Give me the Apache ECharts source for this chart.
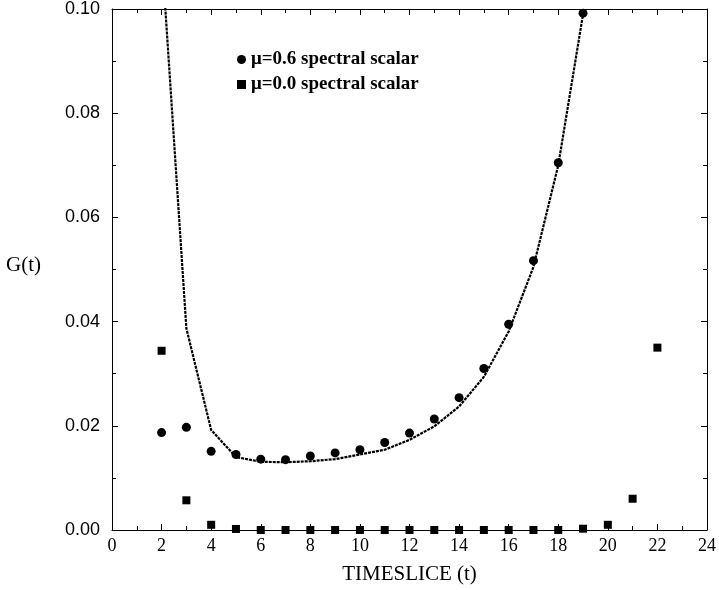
<!DOCTYPE html>
<html>
<head>
<meta charset="utf-8">
<script src="https://cdn.jsdelivr.net/npm/echarts@6/dist/echarts.min.js"></script>
<style>
  html, body { margin: 0; padding: 0; background: #fff; }
  #main { width: 719px; height: 590px; }
</style>
</head>
<body>
<div id="main"></div>
<script>
// 数据
var timeslices = [2, 3, 4, 5, 6, 7, 8, 9, 10, 11, 12, 13, 14, 15, 16, 17, 18, 19, 20, 21, 22];
var mu06 = [0.0187, 0.0197, 0.0151, 0.0145, 0.0136, 0.0135, 0.0142, 0.0148, 0.0154, 0.0168,
            0.0186, 0.0213, 0.0254, 0.0310, 0.0395, 0.0517, 0.0705, 0.0992];
var mu00 = [0.0344, 0.0057, 0.0010, 0.0002, 0.0000, 0.0000, 0.0000, 0.0000, 0.0000, 0.0000,
            0.0000, 0.0000, 0.0000, 0.0000, 0.0000, 0.0000, 0.0000, 0.00025, 0.0010, 0.0060, 0.0350];
var fitCurve = [0.111, 0.0387, 0.0192, 0.0140, 0.0131, 0.0130, 0.0132, 0.0136, 0.0145, 0.0154,
                0.0173, 0.0199, 0.0237, 0.0294, 0.0381, 0.0505, 0.0700, 0.0990];
var legendNames = ['\u03bc=0.6 spectral scalar', '\u03bc=0.0 spectral scalar'];

function pairs(vals) {
    return vals.map(function (v, i) { return [timeslices[i], v]; });
}

var serif = '"Liberation Serif", "DejaVu Serif", serif';
var sans = '"Liberation Sans", Arial, sans-serif';

var chart = echarts.init(document.getElementById('main'));

var boxAxis = {
    axisLine: { show: true, onZero: false, lineStyle: { color: '#000', width: 1 } },
    axisTick: { show: true, inside: true, length: 6, lineStyle: { color: '#000' } },
    minorTick: { show: true, splitNumber: 2, length: 4, lineStyle: { color: '#000' } },
    splitLine: { show: false },
    minorSplitLine: { show: false }
};

var option = {
    animation: false,
    backgroundColor: '#fff',
    grid: { left: 112, right: 10, top: 9, bottom: 58, containLabel: false },
    legend: {
        data: [
            { name: legendNames[0], icon: 'circle' },
            { name: legendNames[1], icon: 'rect' }
        ],
        orient: 'vertical',
        left: 232,
        top: 45,
        itemWidth: 9,
        itemHeight: 9,
        itemGap: 6,
        textStyle: { fontFamily: serif, fontWeight: 'bold', fontSize: 19, color: '#000' },
        selectedMode: false
    },
    xAxis: [
        Object.assign({}, boxAxis, {
            type: 'value', min: 0, max: 24, interval: 2, position: 'bottom',
            name: 'TIMESLICE (t)', nameLocation: 'middle', nameGap: 34,
            nameTextStyle: { fontFamily: serif, fontSize: 21, color: '#000' },
            axisLabel: { fontFamily: serif, fontSize: 18, color: '#000', margin: 7 }
        }),
        Object.assign({}, boxAxis, {
            type: 'value', min: 0, max: 24, interval: 2, position: 'top',
            axisLabel: { show: false }
        })
    ],
    yAxis: [
        Object.assign({}, boxAxis, {
            type: 'value', min: 0, max: 0.1, interval: 0.02, position: 'left',
            axisLabel: {
                fontFamily: sans, fontSize: 18, color: '#000', margin: 12,
                formatter: function (v) { return v.toFixed(2); }
            }
        }),
        Object.assign({}, boxAxis, {
            type: 'value', min: 0, max: 0.1, interval: 0.02, position: 'right',
            axisLabel: { show: false }
        })
    ],
    graphic: [{
        type: 'text',
        left: 6,
        top: 255,
        style: { text: 'G(t)', font: '21px ' + serif, fill: '#000' }
    }],
    series: [
        {
            name: 'fit',
            type: 'line',
            data: pairs(fitCurve),
            showSymbol: false,
            symbol: 'none',
            clip: true,
            lineStyle: { color: '#000', width: 2.2, type: [3, 1] },
            z: 2
        },
        {
            name: legendNames[0],
            type: 'scatter',
            data: pairs(mu06),
            symbol: 'circle',
            symbolSize: 9,
            itemStyle: { color: '#000', opacity: 1 },
            z: 3
        },
        {
            name: legendNames[1],
            type: 'scatter',
            data: pairs(mu00),
            symbol: 'rect',
            symbolSize: 8,
            itemStyle: { color: '#000', opacity: 1 },
            z: 3
        }
    ]
};

chart.setOption(option);
</script>
</body>
</html>
